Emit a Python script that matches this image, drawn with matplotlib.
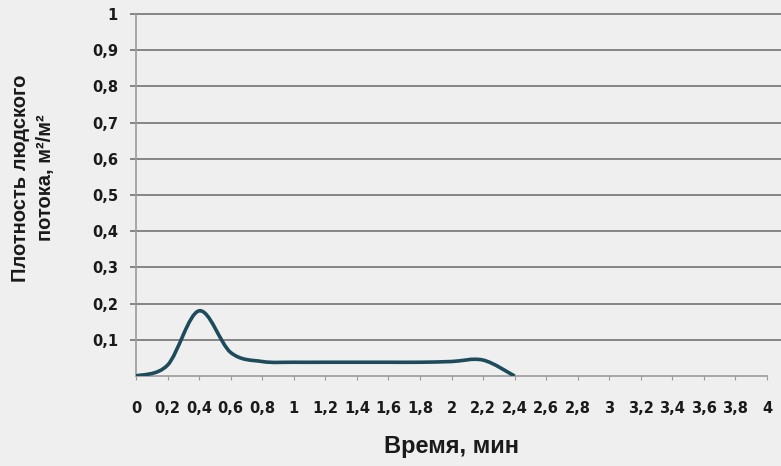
import matplotlib
matplotlib.use("Agg")
import matplotlib.pyplot as plt
from matplotlib.path import Path
from matplotlib.patches import PathPatch

# data (time in minutes, density m2/m2)
time_min = [0, 0.2, 0.4, 0.6, 0.8, 1.0, 1.2, 1.4, 1.6, 1.8, 2.0, 2.2, 2.4]
density = [0.0, 0.03, 0.18, 0.065, 0.04, 0.038, 0.038, 0.038, 0.038, 0.038, 0.04, 0.044, 0.0]

x_ticks = [i * 0.2 for i in range(21)]
y_ticks = [i * 0.1 for i in range(1, 11)]

bg = "#efefef"
line_col = "#1d4b5c"
grid_col = "#858585"
txt_col = "#1a1a1a"


def fmt(v):
    s = ("%.1f" % v).rstrip("0").rstrip(".")
    return s.replace(".", ",")


def smooth_path(xs, ys):
    # Excel-style smoothed line: bezier segments, control points from neighbours
    pts = list(zip(xs, ys))
    verts = [pts[0]]
    codes = [Path.MOVETO]
    n = len(pts)
    for i in range(n - 1):
        p0 = pts[i - 1] if i > 0 else pts[i]
        p1 = pts[i]
        p2 = pts[i + 1]
        p3 = pts[i + 2] if i + 2 < n else pts[i + 1]
        c1 = (p1[0] + (p2[0] - p0[0]) / 6, p1[1] + (p2[1] - p0[1]) / 6)
        c2 = (p2[0] - (p3[0] - p1[0]) / 6, p2[1] - (p3[1] - p1[1]) / 6)
        verts += [c1, c2, p2]
        codes += [Path.CURVE4] * 3
    return Path(verts, codes)


fig = plt.figure(figsize=(7.81, 4.66), dpi=100, facecolor=bg)
ax = fig.add_axes([136 / 781, 1 - 376 / 466, (767 - 136) / 781, (376 - 14) / 466])
ax.set_facecolor(bg)

ax.set_xlim(0, 4)
ax.set_ylim(0, 1)

ax.hlines(y_ticks, -0.035, 4.1, colors=grid_col, linewidth=1.4, clip_on=False, zorder=1)

ax.add_patch(PathPatch(smooth_path(time_min, density), facecolor="none",
                       edgecolor=line_col, linewidth=2.6, zorder=3))

for s in ["top", "right"]:
    ax.spines[s].set_visible(False)
ax.spines["left"].set_color("#9a9a9a")
ax.spines["bottom"].set_color("#9a9a9a")
ax.spines["left"].set_linewidth(1.2)
ax.spines["bottom"].set_linewidth(1.2)

ax.set_xticks(x_ticks)
ax.set_xticklabels([fmt(v) for v in x_ticks])
ax.set_yticks(y_ticks)
ax.set_yticklabels([fmt(v) for v in y_ticks])

ax.tick_params(axis="x", length=3, color="#9a9a9a", pad=15, labelsize=10.5, labelcolor=txt_col)
ax.tick_params(axis="y", length=0, pad=13, labelsize=10.5, labelcolor=txt_col)
for lab in ax.get_xticklabels() + ax.get_yticklabels():
    lab.set_fontfamily("DejaVu Sans")
    lab.set_fontweight("bold")

fig.text(451 / 781, 1 - 446 / 466, "Время, мин", fontsize=17, fontweight="bold",
         family="Liberation Sans", color=txt_col, ha="center", va="center")
fig.text(33 / 781, 1 - 178 / 466, "Плотность людского\nпотока, м²/м²", fontsize=14.5,
         fontweight="bold", family="Liberation Sans", color=txt_col, rotation=90,
         ha="center", va="center", linespacing=1.4, multialignment="center")

fig.savefig("out.png", dpi=100, facecolor=bg)
